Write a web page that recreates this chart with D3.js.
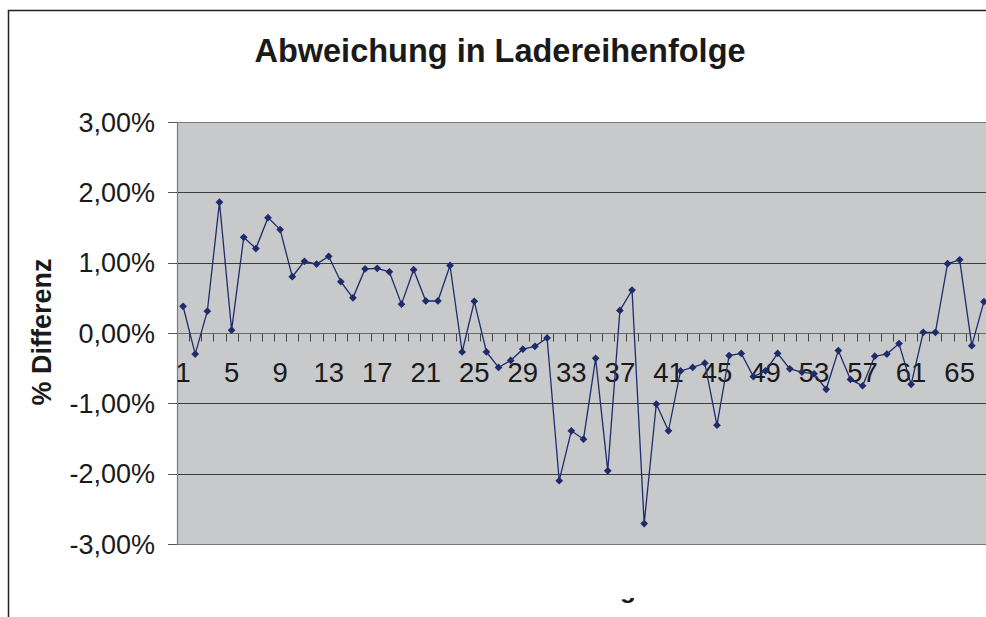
<!DOCTYPE html>
<html>
<head>
<meta charset="utf-8">
<script src="https://cdn.jsdelivr.net/npm/d3@7"></script>
<style>
  body { margin: 0; background: #fff; }
  text { font-family: "Liberation Sans", Arial, sans-serif; }
</style>
</head>
<body>
<script>
// Ladeposition 1..67
var categories = [1,2,3,4,5,6,7,8,9,10,11,12,13,14,15,16,17,18,19,20,21,22,23,24,25,26,27,28,29,30,
  31,32,33,34,35,36,37,38,39,40,41,42,43,44,45,46,47,48,49,50,51,52,53,54,55,56,57,58,59,60,
  61,62,63,64,65,66,67];

// Abweichung in %
var values = [0.38,-0.30,0.31,1.86,0.04,1.36,1.20,1.64,1.47,0.80,
  1.02,0.98,1.09,0.73,0.50,0.91,0.92,0.87,0.41,0.90,
  0.455,0.455,0.96,-0.27,0.45,-0.27,-0.49,-0.39,-0.23,-0.19,
  -0.07,-2.10,-1.39,-1.51,-0.36,-1.96,0.32,0.61,-2.71,-1.01,
  -1.39,-0.54,-0.49,-0.43,-1.31,-0.32,-0.29,-0.62,-0.54,-0.29,
  -0.51,-0.555,-0.58,-0.80,-0.25,-0.66,-0.75,-0.33,-0.30,-0.15,
  -0.73,0.01,0.01,0.985,1.04,-0.18,0.445];

var yTicks = [0.03, 0.02, 0.01, 0, -0.01, -0.02, -0.03];
var xLabels = [1,5,9,13,17,21,25,29,33,37,41,45,49,53,57,61,65];

var w = 986;
var h = 617;

// plot area (runs a little past the right edge)
var pl = 177;
var pr = 990;
var pt = 122;
var pb = 544;

var de = d3.formatLocale({decimal: ',', thousands: '.', grouping: [3], currency: ['', ' €'], minus: '-'});
var fmt = de.format('.2%');

var x = d3.scaleBand().domain(categories).range([pl, pr]).padding(0);
var y = d3.scaleLinear().domain([-0.03, 0.03]).range([pb, pt]);
var bw = x.bandwidth();

function cx(d) { return x(d) + bw/2; }

var svg = d3.select('body').append('svg')
  .attr('width', w)
  .attr('height', h);

// rahmen
svg.append('path')
  .attr('d', `M 8.5 ${h} L 8.5 10.5 L ${w} 10.5`)
  .attr('fill', 'none')
  .attr('stroke', '#222')
  .attr('stroke-width', 1.5);

svg.append('text')
  .attr('x', 500)
  .attr('y', 61.5)
  .attr('text-anchor', 'middle')
  .attr('font-size', 32.5)
  .attr('font-weight', 'bold')
  .attr('fill', '#1a1a1a')
  .text('Abweichung in Ladereihenfolge');

svg.append('rect')
  .attr('x', pl)
  .attr('y', pt)
  .attr('width', pr - pl)
  .attr('height', pb - pt)
  .attr('fill', '#c8c9cb');

svg.selectAll('.grid')
  .data(yTicks)
  .enter().append('line')
  .attr('class', 'grid')
  .attr('x1', pl)
  .attr('x2', pr)
  .attr('y1', d => Math.round(y(d)) + 0.5)
  .attr('y2', d => Math.round(y(d)) + 0.5)
  .attr('stroke', d => (d == 0.03 || d == -0.03) ? '#7a7a7a' : '#3c3c3c')
  .attr('stroke-width', 1);

// y axis
svg.append('line')
  .attr('x1', pl + 0.5).attr('x2', pl + 0.5)
  .attr('y1', pt).attr('y2', pb + 1)
  .attr('stroke', '#7a7a7a')
  .attr('stroke-width', 1.2);

svg.selectAll('.ytick')
  .data(yTicks)
  .enter().append('line')
  .attr('class', 'ytick')
  .attr('x1', pl - 9)
  .attr('x2', pl)
  .attr('y1', d => Math.round(y(d)) + 0.5)
  .attr('y2', d => Math.round(y(d)) + 0.5)
  .attr('stroke', '#555');

svg.selectAll('.ylab')
  .data(yTicks)
  .enter().append('text')
  .attr('class', 'ylab')
  .attr('x', 155)
  .attr('y', d => y(d))
  .attr('dy', '0.36em')
  .attr('text-anchor', 'end')
  .attr('font-size', 27)
  .attr('fill', '#1a1a1a')
  .text(d => fmt(d));

svg.append('text')
  .attr('transform', 'translate(51,332) rotate(-90)')
  .attr('text-anchor', 'middle')
  .attr('font-size', 27)
  .attr('font-weight', 'bold')
  .attr('fill', '#1a1a1a')
  .text('% Differenz');

// category axis on the zero line
var y0 = Math.round(y(0)) + 0.5;
svg.append('line')
  .attr('x1', pl).attr('x2', pr)
  .attr('y1', y0).attr('y2', y0)
  .attr('stroke', '#6a6a6a')
  .attr('stroke-width', 1.2);

svg.selectAll('.xtick')
  .data(categories)
  .enter().append('line')
  .attr('class', 'xtick')
  .attr('x1', d => Math.round(x(d) + bw) + 0.5)
  .attr('x2', d => Math.round(x(d) + bw) + 0.5)
  .attr('y1', y0)
  .attr('y2', y0 + 8)
  .attr('stroke', '#444');

svg.selectAll('.xlab')
  .data(xLabels)
  .enter().append('text')
  .attr('class', 'xlab')
  .attr('x', d => cx(d))
  .attr('y', 382)
  .attr('text-anchor', 'middle')
  .attr('font-size', 27.5)
  .attr('fill', '#1a1a1a')
  .text(d => d);

// series
var pts = categories.map((c, i) => [c, values[i] / 100]);

svg.append('path')
  .datum(pts)
  .attr('fill', 'none')
  .attr('stroke', '#1f2c6b')
  .attr('stroke-width', 1.3)
  .attr('d', d3.line().x(d => cx(d[0])).y(d => y(d[1])));

var mark = d3.symbol().type(d3.symbolSquare).size(30);
svg.selectAll('.pt')
  .data(pts)
  .enter().append('path')
  .attr('class', 'pt')
  .attr('transform', d => `translate(${cx(d[0])},${y(d[1])}) rotate(45)`)
  .attr('d', mark)
  .attr('fill', '#1f2c6b');

// x axis title, mostly below the visible area
svg.append('clipPath')
  .attr('id', 'cut')
  .append('rect')
  .attr('x', 0).attr('y', 598)
  .attr('width', w).attr('height', 30);

svg.append('text')
  .attr('clip-path', 'url(#cut)')
  .attr('x', 636)
  .attr('y', 597.5)
  .attr('text-anchor', 'end')
  .attr('font-size', 26)
  .attr('font-weight', 'bold')
  .attr('fill', '#1a1a1a')
  .text('Ladung');
</script>
</body>
</html>
